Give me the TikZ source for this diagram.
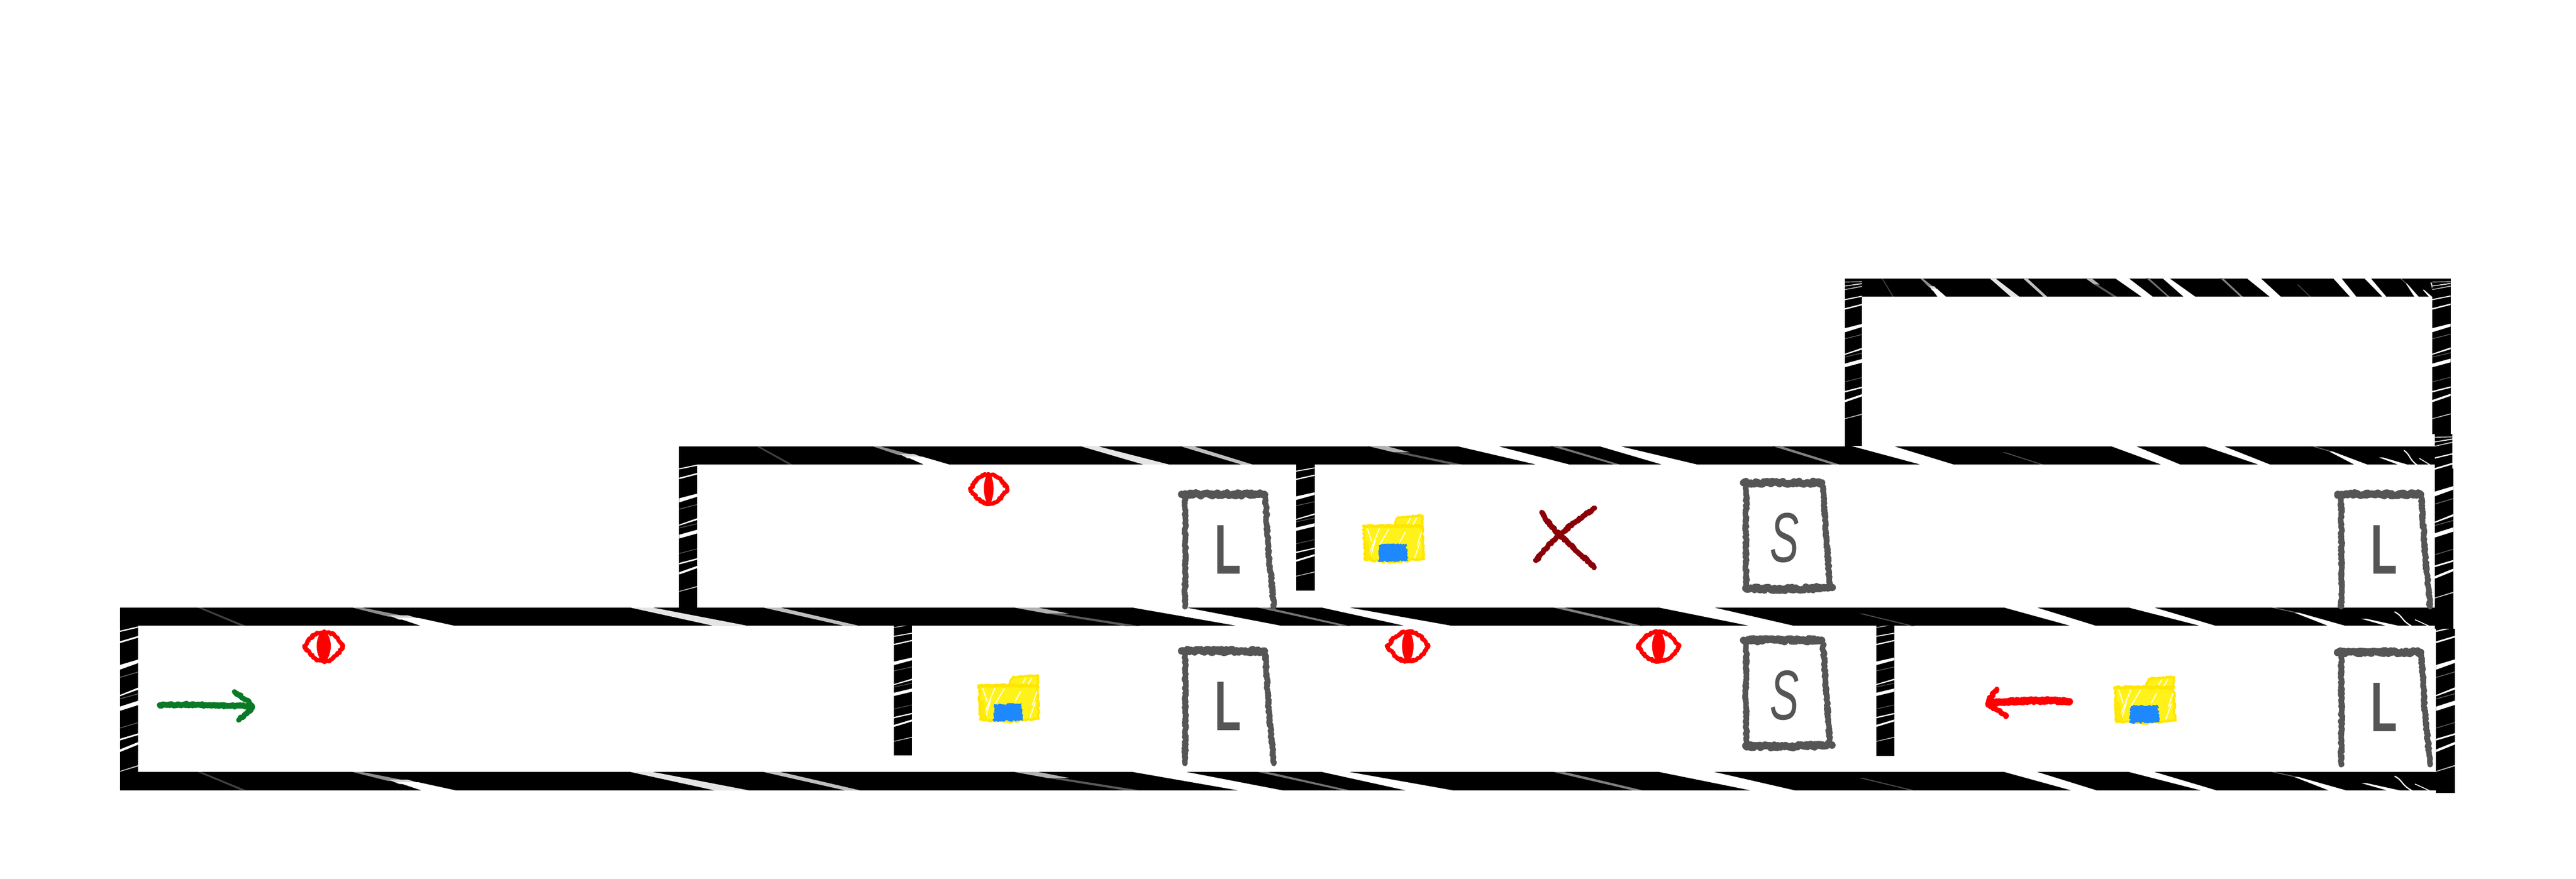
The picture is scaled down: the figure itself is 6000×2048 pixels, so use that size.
\documentclass[tikz,border=0pt]{standalone}
\usepackage{fontspec}
\setmainfont{Liberation Sans}
\usetikzlibrary{decorations.pathmorphing}
\definecolor{pencil}{HTML}{555555}
\definecolor{fyel}{HTML}{FFE600}
\definecolor{fyel2}{HTML}{FFF21A}
\definecolor{fblue}{HTML}{1E88FF}
\definecolor{agreen}{HTML}{0A7A26}
\definecolor{xred}{HTML}{8B0008}
\tikzset{
  pencil/.style={decorate,decoration={random steps,segment length=.7pt,amplitude=.55pt},line join=round,line cap=round},
  boxline/.style={pencil,draw=pencil,line width=3.2pt},
  boxhead/.style={pencil,draw=pencil,line width=4.2pt,decoration={random steps,segment length=.7pt,amplitude=.9pt}},
  glyph/.style={text=pencil,inner sep=0pt,outer sep=0pt,transform shape},
}
% texture coordinates, horizontal bars
\newcommand\stk[7]{\fill[#1] (#2,#6) -- (#3,#6) -- (#5,#7) -- (#4,#7) -- cycle;}
\newcommand\hbarx[6]{% x1 x2 ytop ybot scale offset
  \fill[black] (#1,#3) rectangle (#2,#4);
  \begin{scope}
    \clip (#1,#3) rectangle (#2,#4);
    \begin{scope}[shift={(#6,#3)},xscale=#5,shift={(-5673,0)}]
      \stk{black!45}{821}{844}{905}{950}{0}{21}
      \stk{black!15}{905}{950}{930}{985}{18}{28}
      \stk{white}{925}{975}{982}{1062}{24}{43}
      \stk{black!75}{460}{470}{560}{572}{0}{42}
      \stk{black!10}{1464}{1516}{1665}{1745}{-1}{43}
      \stk{black!25}{1774}{1814}{1969}{2004}{-1}{43}
      \stk{black!30}{2357}{2414}{2440}{2490}{-1}{14}
      \stk{black!65}{2440}{2470}{2621}{2656}{14}{43}
      \stk{white}{2633}{2759}{2885}{2988}{-1}{43}
      \stk{black!55}{2925}{2950}{3126}{3145}{-1}{43}
      \stk{white}{3075}{3138}{3275}{3385}{-1}{43}
      \stk{black!50}{3614}{3640}{3804}{3827}{-1}{43}
      \stk{white}{3860}{3989}{4078}{4181}{-1}{43}
      \stk{black!70}{4330}{4340}{4450}{4460}{14}{43}
      \stk{white}{4665}{4742}{4825}{4884}{-1}{43}
      \stk{white}{4955}{5015}{5127}{5163}{-1}{43}
      \stk{black!60}{5290}{5300}{5345}{5355}{0}{12}
      \stk{white}{5345}{5355}{5424}{5465}{12}{43}
      \stk{white}{5500}{5512}{5560}{5590}{26}{43}
      \draw[white,line width=.7pt,line cap=round] (5578,10) .. controls (5600,22) and (5590,30) .. (5626,48);
      \draw[white,line width=.5pt] (5625,28) -- (5673,50);
    \end{scope}
  \end{scope}}
\newcommand\vk[5]{\fill[#1] (-1,#2) -- (46,#4) -- (46,#5) -- (-1,#3) -- cycle;}
\newcommand\vbarx[6]{% x1 x2 ytop ybot scale offset
  \fill[black] (#1,#3) rectangle (#2,#4);
  \begin{scope}
    \clip (#1,#3) rectangle (#2,#4);
    \begin{scope}[shift={(#1,#6)},yscale=#5]
      \vk{black!20}{-36}{-34}{-37}{-35}
      \vk{black!10}{-25}{-23}{-33}{-30}
      \vk{black!25}{-15}{-13}{-26}{-23}
      \vk{white}{12}{15}{1}{4}
      \vk{white}{37}{41}{23}{27}
      \vk{white}{92}{103}{78}{86}
      \vk{black!60}{120}{122}{106}{108}
      \vk{white}{162}{165}{143}{148}
      \vk{black!65}{170}{172}{157}{159}
      \vk{white}{189}{199}{174}{184}
      \vk{black!65}{238}{240}{224}{226}
      \vk{white}{264}{268}{250}{254}
      \vk{white}{289}{295}{270}{276}
      \vk{black!25}{339}{341}{324}{327}
    \end{scope}
  \end{scope}}
% hand drawn parts
\newcommand\eyeg[4]{% cx, top, half width, pupil half width
  \begin{scope}[shift={(#1,#2)}]
    \draw[pencil,draw=red,line width=2.4pt] (-#3+5,40) .. controls (-#3*.55,12) and (-#3*.3,5) .. (0,6)
      .. controls (#3*.3,5) and (#3*.6,12) .. (#3-5,40)
      .. controls (#3*.6,65) and (#3*.3,74) .. (0,74)
      .. controls (-#3*.3,74) and (-#3*.55,65) .. (-#3+5,40);
    \fill[red] (0,2) .. controls (#4,15) and (#4,60) .. (0,79) .. controls (-#4,60) and (-#4,15) .. (0,2);
  \end{scope}}
\newcommand\lboxg[2]{%
  \begin{scope}[shift={(#1,#2)}]
    \draw[boxhead] (5,0) -- (198,0);
    \draw[boxline] (13,8) -- (14,137) -- (13,262);
    \draw[boxline] (200,8) -- (208,137) -- (220,262);
    \node[glyph,anchor=south west,xscale=.62] at (82,185) {\fontsize{41}{41}\selectfont\bfseries L};
  \end{scope}}
\newcommand\sboxg[2]{%
  \begin{scope}[shift={(#1,#2)}]
    \draw[boxhead] (5,0) -- (187,0);
    \draw[boxline] (12,8) -- (10,125) -- (12,240);
    \draw[boxline] (190,8) -- (198,125) -- (206,240);
    \draw[boxhead] (10,246) -- (100,248) -- (211,244);
    \node[glyph,anchor=south west,xscale=.62] at (66,186) {\fontsize{41}{41}\selectfont\itshape S};
  \end{scope}}
\newcommand\folder[2]{%
  \begin{scope}[shift={(#1,#2)}]
    \draw[pencil,fill=fyel2,draw=fyel,line width=1.2pt] (3,26) -- (140,26) -- (143,103) -- (70,110) -- (6,105) -- cycle;
    \draw[pencil,fill=fyel2,draw=fyel,line width=1.2pt] (73,26) -- (82,6) -- (140,1) -- (140,26) -- cycle;
    \draw[pencil,draw=fyel,line width=1.8pt] (3,26) -- (140,26);
    \foreach \a/\b/\c/\d in {12/32/22/62, 40/32/16/90, 62/33/40/70, 30/60/20/95, 128/70/138/40, 122/100/134/65, 100/40/88/62, 105/20/112/8, 118/22/126/8}
      \draw[white,line width=.6pt,line cap=round] (\a,\b) -- (\c,\d);
    \fill[fyel,opacity=.7] (6,60) -- (14,60) -- (22,104) -- (6,104) -- cycle;
    \draw[pencil,fill=fblue,draw=fblue,line width=.5pt] (41,70) -- (102,68) -- (105,106) -- (38,108) -- cycle;
  \end{scope}}
\begin{document}
\begin{tikzpicture}[x=.25pt,y=-.25pt]
  \pgfmathsetseed{7}
  \useasboundingbox (0,0) rectangle (6000,2048);
  \fill[white] (0,0) rectangle (6000,2048);
  % vertical walls
  \vbarx{279}{322}{1416}{1842}{1}{1458}
  \vbarx{5674}{5718}{1465}{1848}{1}{1458}
  \vbarx{2082}{2124}{1458}{1760}{.75}{1473}
  \vbarx{4370}{4412}{1458}{1762}{.75}{1473}
  \vbarx{1582}{1624}{1040}{1416}{.875}{1081}
  \vbarx{3019}{3062}{1082}{1376}{.75}{1088}
  \vbarx{4297}{4337}{649}{1040}{.85}{687}
  \vbarx{5665}{5708}{649}{1011}{.85}{687}
  \vbarx{5671}{5712}{1012}{1092}{1}{1054}
  \vbarx{5671}{5714}{1092}{1465}{1}{1054}
  % horizontal walls
  \hbarx{4337}{5665}{649}{691}{.25}{5686}
  \hbarx{1582}{5671}{1040}{1082}{.75}{5671}
  \hbarx{279}{5674}{1416}{1458}{1}{5673}
  \hbarx{279}{5674}{1799}{1842}{1}{5673}
  % boxes
  \lboxg{2747}{1517}
  \lboxg{5440}{1520}
  \lboxg{2747}{1152}
  \lboxg{5440}{1152}
  \sboxg{4056}{1492}
  \sboxg{4056}{1125}
  % folders
  \folder{2277}{1572}
  \folder{3173}{1200}
  \folder{4923}{1576}
  % eyes
  \eyeg{754}{1467}{50}{22}
  \eyeg{2303}{1100}{48}{15}
  \eyeg{3279}{1467}{53}{18}
  \eyeg{3863}{1467}{53}{20}
  % arrows
  \draw[pencil,draw=agreen,line width=3.4pt] (372,1643) .. controls (430,1640) and (500,1644) .. (586,1646);
  \draw[pencil,draw=agreen,line width=3pt] (546,1612) .. controls (565,1625) and (580,1635) .. (588,1646) .. controls (580,1660) and (565,1670) .. (556,1678);
  \draw[pencil,draw=red,line width=4.2pt] (4820,1635) .. controls (4770,1630) and (4700,1634) .. (4634,1638);
  \draw[pencil,draw=red,line width=3pt] (4651,1606) .. controls (4640,1620) and (4632,1630) .. (4630,1640) .. controls (4640,1650) and (4665,1660) .. (4672,1670);
  % cross
  \draw[pencil,draw=xred,line width=3pt] (3591,1194) .. controls (3620,1245) and (3670,1275) .. (3713,1323);
  \draw[pencil,draw=xred,line width=3pt] (3714,1184) .. controls (3670,1215) and (3620,1250) .. (3578,1306);
\end{tikzpicture}
\end{document}
